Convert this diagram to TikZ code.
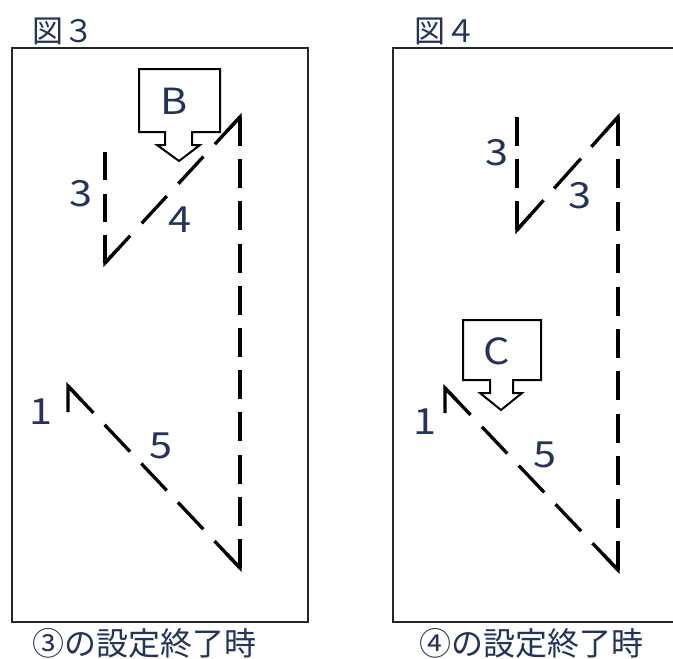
\documentclass[tikz,border=0pt]{standalone}
\usepackage{fontspec}
\setmainfont{Noto Sans CJK JP}
\usetikzlibrary{calc}
\definecolor{txt}{RGB}{36,50,95}
\tikzset{
  frame/.style={draw=black!85, line width=2pt},
  dia/.style={draw=black, line width=3.3pt, line cap=butt},
  vthick/.style={draw=black, line width=4.8pt, line cap=butt},
  vthin/.style={draw=black, line width=3.3pt, line cap=butt},
  solidleg/.style={draw=black, line width=3.3pt, line join=miter, line cap=butt},
  lbl/.style={text=txt, font=\fontsize{36}{36}\selectfont, inner sep=0pt, xscale=1.15},
  ttl/.style={text=txt, font=\fontsize{31}{31}\selectfont, inner sep=0pt, anchor=west},
  captext/.style={text=txt, font=\fontsize{32}{32}\selectfont, inner sep=0pt, anchor=west},
  callout/.style={draw=black, line width=2pt, fill=white, line join=miter}
}
\begin{document}
\begin{tikzpicture}[x=1pt,y=-1pt]
\useasboundingbox (0,0) rectangle (673,659);
\fill[white] (0,0) rectangle (673,659);

% ---------- Figure 3 ----------
\node[ttl] (t3) at (32,31) {図３};
\draw[frame] (12,48) rectangle (308,622);
\node[captext] (c3) at (32,643) {③の設定終了時};

\coordinate (a0) at (68,412);
\coordinate (a1) at (68,386);
\coordinate (a2) at (240,568);
\coordinate (a3) at (240,117);
\coordinate (a4) at (105,263);
\coordinate (a5) at (105,152);

\draw[solidleg] (a0) -- (a1) -- ($(a1)!20pt!(a2)$);
\draw[dia, dash pattern=on 37pt off 16.35pt] (a1) -- (a2);
\draw[vthick, dash pattern=on 29pt off 13.2pt] (a2) -- (a3);
\draw[dia, dash pattern=on 37pt off 16.9pt] (a3) -- (a4);
\draw[vthin, dash pattern=on 28pt off 13.5pt] (a4) -- (a5);
\draw[solidleg] ($(a2)!20pt!(a1)$) -- (a2) -- ($(a2)!12pt!(a3)$);
\draw[solidleg] ($(a3)!12pt!(a2)$) -- (a3) -- ($(a3)!20pt!(a4)$);
\draw[solidleg] ($(a4)!20pt!(a3)$) -- (a4) -- ($(a4)!12pt!(a5)$);

\draw[callout] (139,69) -- (220,69) -- (220,132) -- (192,132) -- (192,145)
  -- (200,145) -- (179,161) -- (157,145) -- (165,145) -- (165,132)
  -- (139,132) -- cycle;
\node[lbl] (B) at (174,101) {B};

\node[lbl] (l3a) at (81,194) {3};
\node[lbl] (l4) at (180,220) {4};
\node[lbl] (l1a) at (41,412) {1};
\node[lbl] (l5a) at (161,446) {5};

% ---------- Figure 4 ----------
\node[ttl] (t4) at (414,31) {図４};
\draw[frame] (673,48) -- (393,48) -- (393,622) -- (673,622);
\node[captext] (c4) at (419,643) {④の設定終了時};

\coordinate (b0) at (445,413);
\coordinate (b1) at (445,388);
\coordinate (b2) at (618,570);
\coordinate (b3) at (618,117);
\coordinate (b4) at (517,230);
\coordinate (b5) at (517,117);

\draw[solidleg] (b0) -- (b1) -- ($(b1)!20pt!(b2)$);
\draw[dia, dash pattern=on 37pt off 16.5pt] (b1) -- (b2);
\draw[vthick, dash pattern=on 29pt off 13.4pt] (b2) -- (b3);
\draw[dia, dash pattern=on 40pt off 15.8pt] (b3) -- (b4);
\draw[vthin, dash pattern=on 29pt off 13pt] (b4) -- (b5);
\draw[solidleg] ($(b2)!20pt!(b1)$) -- (b2) -- ($(b2)!12pt!(b3)$);
\draw[solidleg] ($(b3)!12pt!(b2)$) -- (b3) -- ($(b3)!20pt!(b4)$);
\draw[solidleg] ($(b4)!20pt!(b3)$) -- (b4) -- ($(b4)!12pt!(b5)$);

\draw[callout] (463,320) -- (541,320) -- (541,380) -- (513,380) -- (513,393)
  -- (522,393) -- (501,410) -- (480,393) -- (490,393) -- (490,380)
  -- (463,380) -- cycle;
\node[lbl] (C) at (497,351) {C};

\node[lbl] (l3b) at (497,153) {3};
\node[lbl] (l3c) at (580,196) {3};
\node[lbl] (l1b) at (425,422) {1};
\node[lbl] (l5b) at (545,455) {5};
\end{tikzpicture}
\end{document}
